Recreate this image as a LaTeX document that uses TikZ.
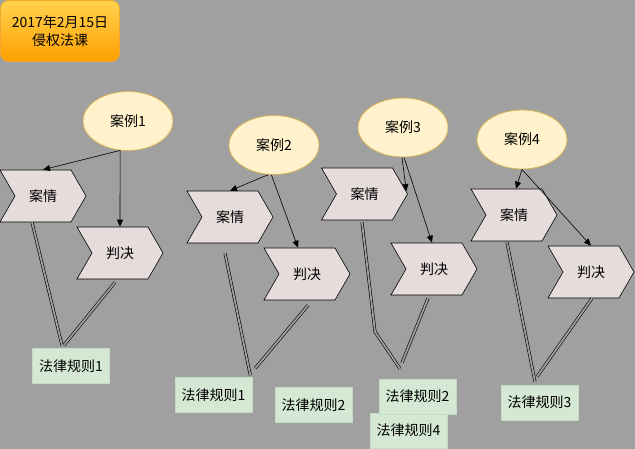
\documentclass[tikz,border=0pt]{standalone}
\usepackage{fontspec}
\setmainfont{Noto Sans CJK SC}
\usetikzlibrary{shapes.geometric,shapes.symbols,arrows.meta,shadings}
\definecolor{bg}{HTML}{A0A0A0}
\definecolor{ellfill}{HTML}{FFF2CC}
\definecolor{elldraw}{HTML}{D6B656}
\definecolor{chevfill}{HTML}{E6DCDC}
\definecolor{rulefill}{HTML}{D5E8D4}
\definecolor{ruledraw}{HTML}{C3DCC2}
\definecolor{orangetop}{HTML}{FFD24D}
\definecolor{orangebot}{HTML}{FFA000}
\definecolor{orangedraw}{HTML}{F0A830}
\tikzset{
  txt/.style={font=\fontsize{14}{16}\selectfont},
  caseell/.style={ellipse, fill=ellfill, draw=elldraw, line width=0.8pt, minimum width=90pt, minimum height=59pt, inner sep=0pt, txt},
  chev/.style={signal, signal from=west, signal to=east, signal pointer angle=120, fill=chevfill, draw=black, line width=0.6pt, minimum width=86pt, minimum height=52pt, inner sep=0pt, txt},
  rulebox/.style={rectangle, fill=rulefill, draw=ruledraw, line width=0.6pt, minimum width=77pt, minimum height=35pt, inner sep=0pt, txt},
  arr/.style={-{Triangle[length=7pt,width=6pt]}, line width=0.6pt, black},
  dbl/.style={draw=black, double=bg, double distance=1.8pt, line width=0.6pt},
}
\begin{document}
\begin{tikzpicture}[x=1pt,y=-1pt]
\fill[bg] (0,0) rectangle (635,449);
\useasboundingbox (0,0) rectangle (635,449);
% title
\node[rounded corners=8pt, top color=orangetop, bottom color=orangebot, draw=orangedraw, line width=0.6pt,
  minimum width=119pt, minimum height=61pt, inner sep=0pt, align=center, font=\fontsize{14}{18}\selectfont]
  (title) at (60,31) {2017年2月15日\\侵权法课};

% group 1
\node[caseell] (e1) at (128,121) {案例1};
\node[chev] (c1) at (43,196) {案情};
\node[chev] (j1) at (120,253) {判决};
\node[rulebox] (r1) at (71,366) {法律规则1};
\draw[arr] (e1.255) -- (c1.north);
\draw[arr] (e1.255) -- (j1.north);
\draw[dbl] ([xshift=-11pt]c1.south) -- ([xshift=-9pt,yshift=3pt]r1.north);
\draw[dbl] ([xshift=-5pt,yshift=-3pt]j1.south) -- ([xshift=-7pt,yshift=3pt]r1.north);

% group 2
\node[caseell] (e2) at (274,145) {案例2};
\node[chev] (c2) at (230,217) {案情};
\node[chev] (j2) at (307,274) {判决};
\node[rulebox] (r21) at (213.5,395) {法律规则1};
\node[rulebox] (r22) at (313.5,405) {法律规则2};
\draw[arr] (e2.259) -- (c2.north);
\draw[arr] (e2.265) -- ([xshift=-9pt]j2.north);
\draw[dbl] ([xshift=-5pt,yshift=-10pt]c2.south) -- ([xshift=-2pt,yshift=2pt]r21.north east);
\draw[dbl] ([xshift=1pt,yshift=-5pt]j2.south) -- ([xshift=3pt,yshift=9pt]r21.north east);

% group 3
\node[caseell] (e3) at (403,127.5) {案例3};
\node[chev] (c3) at (364.5,194) {案情};
\node[chev] (j3) at (434,269) {判决};
\node[rulebox] (r4) at (408.5,430.5) {法律规则4};
\node[rulebox] (r32) at (417.5,396.5) {法律规则2};
\draw[arr] (e3.268) -- ([xshift=-1.5pt,yshift=3pt]c3.east);
\draw[arr] (e3.272) -- ([xshift=-2pt]j3.north);
\draw[dbl] ([xshift=-2.5pt,yshift=-2pt]c3.south) -- ([xshift=-42.5pt,yshift=47pt]r32.north) -- ([xshift=-17.5pt,yshift=10pt]r32.north);
\draw[dbl] ([xshift=-6pt,yshift=-3pt]j3.south) -- ([xshift=-15.5pt,yshift=16pt]r32.north);

% group 4
\node[caseell] (e4) at (522,139.5) {案例4};
\node[chev] (c4) at (514,215) {案情};
\node[chev] (j4) at (591,272) {判决};
\node[rulebox] (r3) at (539.5,402.5) {法律规则3};
\draw[arr] (e4.south) -- ([xshift=2pt]c4.north);
\draw[arr] (e4.south) -- (j4.north);
\draw[dbl] ([xshift=-7pt,yshift=-1pt]c4.south) -- ([xshift=-4.5pt,yshift=3pt]r3.north);
\draw[dbl] ([xshift=1pt]j4.south) -- ([xshift=-2.5pt,yshift=8pt]r3.north);
\end{tikzpicture}
\end{document}
